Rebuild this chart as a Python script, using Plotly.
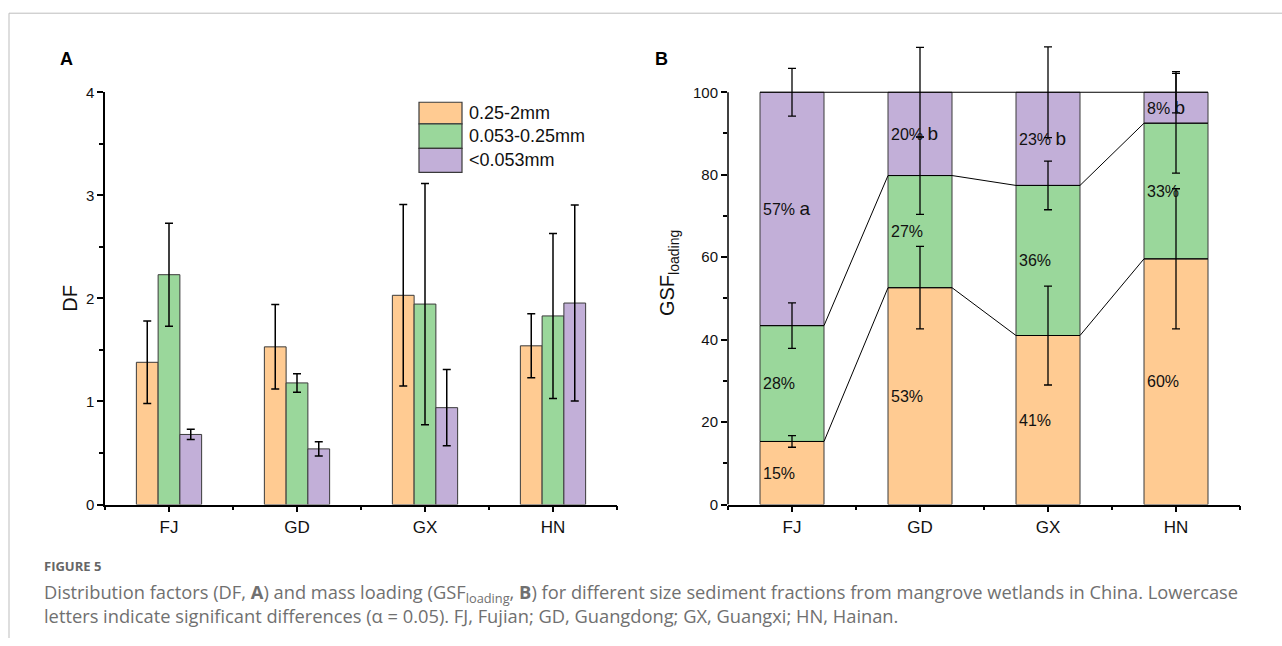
import plotly.graph_objects as go

# ---------------- data ----------------
regions = ["FJ", "GD", "GX", "HN"]
fractions = ["0.25-2mm", "0.053-0.25mm", "<0.053mm"]

# Panel A: distribution factors (DF)
df_coarse = [1.38, 1.53, 2.03, 1.54]
df_coarse_err = [0.40, 0.41, 0.88, 0.31]
df_mid = [2.23, 1.18, 1.945, 1.83]
df_mid_err = [0.50, 0.09, 1.17, 0.80]
df_fine = [0.68, 0.54, 0.94, 1.955]
df_fine_err = [0.05, 0.07, 0.37, 0.95]

# Panel B: GSF loading (%)
gsf_coarse = [15.3, 52.6, 41.0, 59.6]
gsf_coarse_err = [1.4, 10.0, 12.0, 17.0]
gsf_mid = [28.1, 27.2, 36.4, 32.9]
gsf_mid_err = [5.5, 9.4, 5.9, 12.1]
gsf_fine = [56.6, 20.2, 22.6, 7.5]
gsf_fine_err = [5.8, 10.9, 11.0, 5.0]
fine_letters = ["a", "b", "b", "b"]

# ---------------- style ----------------
W, H = 1282, 646
COLORS = ["#FFCB92", "#9AD79B", "#C2AFD8"]
EDGE = "#3a3a3a"
FONT = "Liberation Sans, Arial, sans-serif"
CAP_FONT = "Open Sans, Noto Sans, sans-serif"

# the photographed page is slightly squeezed vertically; map target pixels
Y_OFF, Y_SCALE = 7.8, 0.973


def px(x):
    return x / W


def py(y):
    yl = (y - Y_OFF) / Y_SCALE
    return min(1.0, max(0.0, 1 - yl / H))


xpos = list(range(len(regions)))

fig = go.Figure()

# ---------- Panel A: grouped bars ----------
series_a = [(df_coarse, df_coarse_err), (df_mid, df_mid_err), (df_fine, df_fine_err)]
bw_a = 0.17
for k, (vals, errs) in enumerate(series_a):
    fig.add_trace(go.Bar(
        x=xpos, y=vals, width=bw_a, offset=-1.5 * bw_a + k * bw_a,
        marker=dict(color=COLORS[k], line=dict(color=EDGE, width=1)),
        error_y=dict(type="data", array=errs, color="black", thickness=1.5, width=4),
        name=fractions[k], showlegend=False, xaxis="x", yaxis="y",
    ))

# ---------- Panel B: stacked bars (manual base) ----------
cum1 = [a for a in gsf_coarse]
cum2 = [a + b for a, b in zip(gsf_coarse, gsf_mid)]
cum3 = [a + b + c for a, b, c in zip(gsf_coarse, gsf_mid, gsf_fine)]
bases = [[0] * len(regions), cum1, cum2]
series_b = [gsf_coarse, gsf_mid, gsf_fine]
errs_b = [gsf_coarse_err, gsf_mid_err, gsf_fine_err]
tops_b = [cum1, cum2, cum3]
bw_b = 0.5
for k, vals in enumerate(series_b):
    fig.add_trace(go.Bar(
        x=xpos, y=vals, base=bases[k], width=bw_b, offset=-bw_b / 2,
        marker=dict(color=COLORS[k], line=dict(color=EDGE, width=1)),
        name=fractions[k], showlegend=False, xaxis="x2", yaxis="y2",
    ))

# connecting lines between stacked segments
for level in tops_b:
    lx, ly = [], []
    for i, v in enumerate(level):
        lx += [i - bw_b / 2, i + bw_b / 2]
        ly += [v, v]
    fig.add_trace(go.Scatter(
        x=lx, y=ly, mode="lines", line=dict(color="black", width=1),
        hoverinfo="skip", showlegend=False, xaxis="x2", yaxis="y2",
    ))

# error bars on top of segments (drawn above all bars)
for k in range(3):
    fig.add_trace(go.Scatter(
        x=xpos, y=tops_b[k], mode="markers",
        marker=dict(size=1, color="rgba(0,0,0,0)"),
        error_y=dict(type="data", array=errs_b[k], color="black", thickness=1.3, width=4),
        hoverinfo="skip", showlegend=False, xaxis="x2", yaxis="y2",
    ))

# segment labels
annotations = []
for k in range(3):
    for i in xpos:
        mid = bases[k][i] + series_b[k][i] / 2
        txt = f"{series_b[k][i]:.0f}%"
        if k == 2:
            txt += f" <span style='font-size:19px'>{fine_letters[i]}</span>"
        annotations.append(dict(
            x=i - bw_b / 2, y=mid, xref="x2", yref="y2", text=txt,
            xanchor="left", yanchor="middle", xshift=1, showarrow=False,
            font=dict(family=FONT, size=16, color="#111"),
        ))

# ---------- axes ----------
ydom = [py(503), py(91)]
y2_top_px = 40
y2_max = 100 * (503 - y2_top_px) / (503 - 91)
axis_common = dict(
    showgrid=False, zeroline=False, ticks="outside", ticklen=6, tickwidth=1.5,
    tickcolor="black", linecolor="black", linewidth=1.5,
)
minor_x = dict(tickvals=[-0.5, 0.5, 1.5, 2.5, 3.5], ticklen=4, tickwidth=1.5,
               tickcolor="black", ticks="outside")
fig.update_layout(
    xaxis=dict(
        domain=[px(105), px(617)], range=[-0.5, 3.5], tickvals=xpos, ticktext=regions,
        showline=True, anchor="y", tickfont=dict(family=FONT, size=17, color="#111"),
        minor=minor_x, **axis_common,
    ),
    yaxis=dict(
        domain=ydom, range=[0, 4], tickvals=[0, 1, 2, 3, 4], showline=True, anchor="x",
        tickfont=dict(family=FONT, size=15, color="#111"),
        minor=dict(tickvals=[0.5, 1.5, 2.5, 3.5], ticklen=4, tickwidth=1.5,
                   tickcolor="black", ticks="outside"),
        title=dict(text="DF", font=dict(family=FONT, size=20, color="#111"), standoff=3),
        **axis_common,
    ),
    xaxis2=dict(
        domain=[px(728), px(1240)], range=[-0.5, 3.5], tickvals=xpos, ticktext=regions,
        showline=True, anchor="y2", tickfont=dict(family=FONT, size=17, color="#111"),
        minor=minor_x, **axis_common,
    ),
    yaxis2=dict(
        domain=[py(503), py(y2_top_px)], range=[0, y2_max],
        tickvals=[0, 20, 40, 60, 80, 100], showline=False, anchor="x2",
        tickfont=dict(family=FONT, size=15, color="#111"),
        minor=dict(tickvals=[10, 30, 50, 70, 90], ticklen=4, tickwidth=1.5,
                   tickcolor="black", ticks="outside"),
        title=dict(text="GSF<sub>loading</sub>", font=dict(family=FONT, size=20, color="#111"),
                   standoff=12),
        **axis_common,
    ),
)

shapes = [
    # y-axis line of panel B (0-100 only)
    dict(type="line", xref="x2 domain", yref="y2", x0=0, x1=0, y0=0, y1=100,
         line=dict(color="black", width=1.5)),
    # page frame
    dict(type="line", xref="paper", yref="paper", x0=px(9), x1=1, y0=py(12), y1=py(12),
         line=dict(color="#bdbdbd", width=1)),
    dict(type="line", xref="paper", yref="paper", x0=px(9), x1=px(9), y0=py(12), y1=0,
         line=dict(color="#bdbdbd", width=1)),
]

# manual legend (panel A)
leg_x0, leg_x1 = 419, 462
leg_rows = [(101, 122.5), (122.5, 147), (147, 171)]
for k, (ya, yb) in enumerate(leg_rows):
    shapes.append(dict(type="rect", xref="paper", yref="paper",
                       x0=px(leg_x0), x1=px(leg_x1), y0=py(yb), y1=py(ya),
                       fillcolor=COLORS[k], line=dict(color=EDGE, width=1.2)))
    annotations.append(dict(x=px(467), y=py((ya + yb) / 2), xref="paper", yref="paper",
                            text=fractions[k].replace("<", "&lt;"), showarrow=False,
                            xanchor="left", yanchor="middle",
                            font=dict(family=FONT, size=18, color="#111")))

# panel letters
for lbl, xx in [("A", 66), ("B", 661)]:
    annotations.append(dict(x=px(xx), y=py(58), xref="paper", yref="paper",
                            text=f"<b>{lbl}</b>", showarrow=False,
                            xanchor="center", yanchor="middle",
                            font=dict(family=FONT, size=18, color="black")))

# caption
annotations.append(dict(x=px(42), y=py(564), xref="paper", yref="paper",
                        text="<b>FIGURE 5</b>", showarrow=False, xanchor="left",
                        yanchor="middle", font=dict(family=CAP_FONT, size=13, color="#666")))
caption = ("Distribution factors (DF, <b>A</b>) and mass loading (GSF<sub>loading</sub>, <b>B</b>) "
           "for different size sediment fractions from mangrove wetlands in China. Lowercase"
           "<br>letters indicate significant differences (α = 0.05). FJ, Fujian; GD, Guangdong; "
           "GX, Guangxi; HN, Hainan.")
annotations.append(dict(x=px(42), y=py(602), xref="paper", yref="paper", text=caption,
                        showarrow=False, xanchor="left", yanchor="middle", align="left",
                        font=dict(family=CAP_FONT, size=18.3, color="#707070")))

fig.update_layout(
    width=W, height=H, margin=dict(l=0, r=0, t=0, b=0),
    paper_bgcolor="white", plot_bgcolor="white",
    shapes=shapes, annotations=annotations, showlegend=False,
    barmode="overlay",
)

fig.write_html("out.html")
